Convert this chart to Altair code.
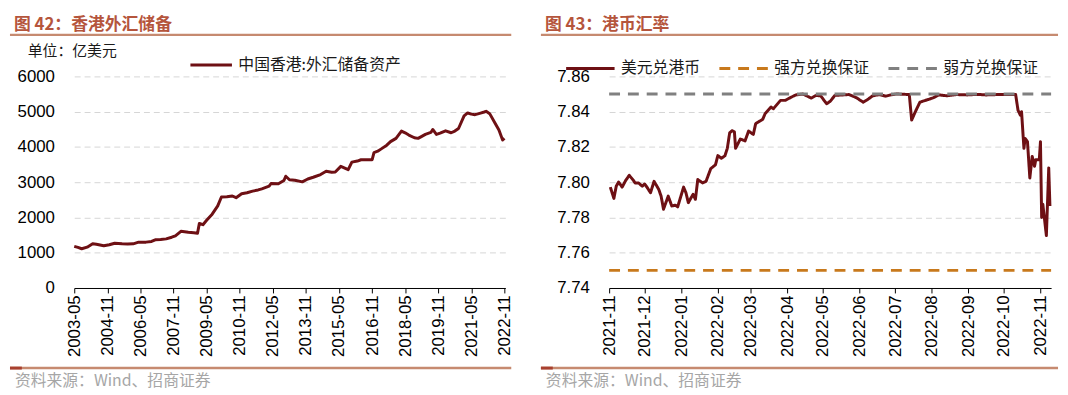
import altair as alt
import pandas as pd

# ---------------- data ----------------
reserve_months = [
    "2003-05", "2003-07", "2003-09", "2003-12", "2004-03", "2004-05", "2004-09", "2004-12",
    "2005-03", "2005-07", "2005-10", "2006-01", "2006-04", "2006-08", "2006-11", "2007-01",
    "2007-04", "2007-07", "2007-10", "2007-12", "2008-03", "2008-07", "2008-10", "2008-12",
    "2009-01", "2009-03", "2009-05", "2009-08", "2009-11", "2010-01", "2010-04", "2010-07",
    "2010-09", "2010-12", "2011-03", "2011-06", "2011-09", "2011-11", "2012-03", "2012-04",
    "2012-08", "2012-11", "2012-12", "2013-02", "2013-05", "2013-09", "2013-12", "2014-03",
    "2014-07", "2014-10", "2015-01", "2015-03", "2015-06", "2015-10", "2015-12", "2016-03",
    "2016-05", "2016-08", "2016-11", "2016-12", "2017-02", "2017-04", "2017-07", "2017-09",
    "2017-12", "2018-03", "2018-05", "2018-07", "2018-10", "2018-12", "2019-02", "2019-04",
    "2019-07", "2019-08", "2019-10", "2019-12", "2020-03", "2020-06", "2020-08", "2020-10",
    "2021-01", "2021-03", "2021-05", "2021-07", "2021-10", "2021-12", "2022-01", "2022-03",
    "2022-06", "2022-08", "2022-10", "2022-11",
]
reserve_values = [
    1180, 1150, 1113, 1158, 1253, 1240, 1197, 1225,
    1270, 1253, 1245, 1253, 1299, 1300, 1320, 1365,
    1375, 1393, 1440, 1480, 1608, 1580, 1565, 1552,
    1832, 1795, 1920, 2094, 2327, 2580, 2590, 2608,
    2560, 2673, 2700, 2748, 2780, 2813, 2888, 2963,
    2953, 3048, 3169, 3070, 3057, 3010, 3090, 3140,
    3216, 3309, 3280, 3290, 3449, 3356, 3569, 3600,
    3637, 3640, 3637, 3841, 3880, 3945, 4050, 4150,
    4243, 4449, 4400, 4337, 4260, 4243, 4300, 4355,
    4411, 4495, 4355, 4390, 4458, 4402, 4450, 4523,
    4879, 4963, 4930, 4915, 4960, 4991, 5010, 4944,
    4663, 4478, 4197, 4243,
]

fx_dates = [
    "2021-11-02", "2021-11-05", "2021-11-07", "2021-11-09", "2021-11-12", "2021-11-15",
    "2021-11-18", "2021-11-21", "2021-11-23", "2021-11-26", "2021-11-29",
    "2021-12-01", "2021-12-03", "2021-12-06", "2021-12-09", "2021-12-13", "2021-12-15",
    "2021-12-17", "2021-12-21", "2021-12-24", "2021-12-27", "2021-12-29",
    "2022-01-03", "2022-01-05", "2022-01-07", "2022-01-11", "2022-01-13", "2022-01-15",
    "2022-01-19", "2022-01-22", "2022-01-26", "2022-01-30",
    "2022-02-01", "2022-02-04", "2022-02-07", "2022-02-09", "2022-02-11", "2022-02-13",
    "2022-02-15", "2022-02-16", "2022-02-20", "2022-02-24", "2022-02-27",
    "2022-03-03", "2022-03-05", "2022-03-08", "2022-03-11", "2022-03-13", "2022-03-18",
    "2022-03-20", "2022-03-26", "2022-03-30",
    "2022-04-04", "2022-04-08", "2022-04-14", "2022-04-21", "2022-04-25", "2022-04-29",
    "2022-05-04", "2022-05-07", "2022-05-11", "2022-05-18", "2022-05-23", "2022-05-29",
    "2022-06-04", "2022-06-08", "2022-06-12", "2022-06-18", "2022-06-23", "2022-06-27",
    "2022-07-02", "2022-07-07", "2022-07-13", "2022-07-15", "2022-07-18", "2022-07-22",
    "2022-07-29",
    "2022-08-02", "2022-08-07", "2022-08-14", "2022-08-22", "2022-08-31",
    "2022-09-09", "2022-09-16", "2022-09-26",
    "2022-10-03", "2022-10-11", "2022-10-13", "2022-10-15", "2022-10-16", "2022-10-18",
    "2022-10-19", "2022-10-21", "2022-10-23", "2022-10-25", "2022-10-27", "2022-10-28",
    "2022-10-31",
    "2022-11-01", "2022-11-02", "2022-11-03", "2022-11-06", "2022-11-08", "2022-11-09",
]
fx_values = [
    7.7972, 7.7908, 7.7977, 7.8001, 7.7972, 7.8010, 7.8039, 7.8015, 7.7996, 7.7995, 7.7977,
    7.7990, 7.7972, 7.7940, 7.8005, 7.7959, 7.7920, 7.7847, 7.7921, 7.7865, 7.7870, 7.7860,
    7.7972, 7.7940, 7.7884, 7.7931, 7.7903, 7.8015, 7.7996, 7.8005, 7.8077, 7.8099,
    7.8151, 7.8136, 7.8150, 7.8192, 7.8280, 7.8292, 7.8286, 7.8192, 7.8245, 7.8234, 7.8290,
    7.8271, 7.8332, 7.8345, 7.8357, 7.8389, 7.8426, 7.8417, 7.8464, 7.8464,
    7.8482, 7.8495, 7.8500, 7.8477, 7.8492, 7.8490,
    7.8445, 7.8458, 7.8492, 7.8495, 7.8497, 7.8480,
    7.8454, 7.8470, 7.8490, 7.8497, 7.8488, 7.8495,
    7.8500, 7.8499, 7.8497, 7.8352, 7.8398, 7.8454, 7.8469,
    7.8478, 7.8495, 7.8490, 7.8497, 7.8495,
    7.8498, 7.8495, 7.8497,
    7.8498, 7.8497, 7.8408, 7.8380, 7.8400, 7.8192, 7.8248, 7.8230, 7.8024, 7.8146,
    7.8090, 7.8127, 7.8127,
    7.8230, 7.7800, 7.7875, 7.7697, 7.8081, 7.7865,
]

peg_dates = ["2021-11-01", "2022-11-10"]
strong_side = [7.75, 7.75]
weak_side = [7.85, 7.85]

left_ticks = ["2003-05", "2004-11", "2006-05", "2007-11", "2009-05", "2010-11", "2012-05",
              "2013-11", "2015-05", "2016-11", "2018-05", "2019-11", "2021-05", "2022-11"]
right_ticks = ["2021-11", "2021-12", "2022-01", "2022-02", "2022-03", "2022-04", "2022-05",
               "2022-06", "2022-07", "2022-08", "2022-09", "2022-10", "2022-11"]
left_y_ticks = [0, 1000, 2000, 3000, 4000, 5000, 6000]
right_y_ticks = [7.74, 7.76, 7.78, 7.80, 7.82, 7.84, 7.86]

left_series = "中国香港:外汇储备资产"
fx_series = ["美元兑港币", "强方兑换保证", "弱方兑换保证"]

# ---------------- style ----------------
FONT_CJK = "Noto Sans CJK SC"
FONT_NUM = "Liberation Sans"
TITLE_COLOR = "#b5553c"
RULE_COLOR = "#c68a70"
ACCENT_COLOR = "#a8402f"
LINE_COLOR = "#6e1014"
STRONG_COLOR = "#c8791c"
WEAK_COLOR = "#808080"
GRID_COLOR = "#d6d6d6"
SOURCE_COLOR = "#a6a6a6"

W1, W2, H = 436, 447, 214


def dt(s):
    parts = s.split("-")
    day = int(parts[2]) if len(parts) > 2 else 1
    return alt.DateTime(year=int(parts[0]), month=int(parts[1]), date=day, utc=True)


x_axis_style = dict(
    title=None, labelAngle=270, labelFont=FONT_NUM, labelFontSize=17, labelColor="#000000",
    domainColor="#000000", domainWidth=1, tickColor="#000000", tickSize=5, tickWidth=1,
    labelPadding=2, grid=False, labelOverlap=False, labelFlush=False,
    labelExpr="utcFormat(datum.value, '%Y-%m')",
)
y_axis_style = dict(
    title=None, domain=False, ticks=False, grid=True, gridColor=GRID_COLOR,
    gridDash=[6, 4], gridWidth=1, labelFont=FONT_NUM, labelFontSize=17,
    labelColor="#000000", labelPadding=20,
)


def decorations(left_x, right_x, title_text):
    base = alt.Chart(pd.DataFrame({"k": [0]}))
    title = base.mark_text(
        text=title_text, font=FONT_CJK, fontSize=17, fontWeight="bold",
        color=TITLE_COLOR, align="left", baseline="top",
    ).encode(x=alt.value(left_x + 4), y=alt.value(-60))
    top_rule = base.mark_rule(color=RULE_COLOR, strokeWidth=2.5).encode(
        x=alt.value(left_x), x2=alt.value(right_x), y=alt.value(-42))
    bottom_rule = base.mark_rule(color=RULE_COLOR, strokeWidth=2.5).encode(
        x=alt.value(left_x), x2=alt.value(right_x), y=alt.value(295))
    accent = base.mark_rule(color=ACCENT_COLOR, strokeWidth=3).encode(
        x=alt.value(left_x), x2=alt.value(left_x + 12), y=alt.value(295))
    source = base.mark_text(
        text="资料来源：Wind、招商证券", font=FONT_CJK, fontSize=16,
        color=SOURCE_COLOR, align="left", baseline="middle",
    ).encode(x=alt.value(left_x + 5), y=alt.value(308))
    return [title, top_rule, bottom_rule, accent, source]


# ---------------- left panel ----------------
df_res = pd.DataFrame({
    "date": [m + "-01" for m in reserve_months],
    "value": reserve_values,
    "s1": [left_series] * len(reserve_values),
})

left_line = alt.Chart(df_res).mark_line(strokeWidth=3, strokeJoin="round").encode(
    x=alt.X("date:T",
            scale=alt.Scale(type="utc", domain=[dt("2003-05-01"), dt("2022-11-15")]),
            axis=alt.Axis(values=[dt(t) for t in left_ticks], **x_axis_style)),
    y=alt.Y("value:Q", scale=alt.Scale(domain=[0, 6000], nice=False),
            axis=alt.Axis(values=left_y_ticks, format="d", **y_axis_style)),
    color=alt.Color("s1:N", scale=alt.Scale(domain=[left_series], range=[LINE_COLOR]),
                    legend=alt.Legend(orient="none", legendX=116, legendY=-34,
                                      direction="horizontal", title=None,
                                      symbolType="stroke", symbolSize=1764,
                                      symbolStrokeWidth=3, labelFont=FONT_CJK,
                                      labelFontSize=16, labelColor="#1a1a1a",
                                      labelLimit=0, labelOffset=5, padding=0)),
)

unit_text = alt.Chart(pd.DataFrame({"k": [0]})).mark_text(
    text="单位：亿美元", font=FONT_CJK, fontSize=15, color="#1a1a1a",
    align="left", baseline="middle",
).encode(x=alt.value(-47), y=alt.value(-26))

left_chart = alt.layer(
    left_line, unit_text, *decorations(-65, W1 + 6, "图 42：香港外汇储备")
).properties(width=W1, height=H)

# ---------------- right panel ----------------
df_fx = pd.DataFrame({
    "date2": fx_dates,
    "rate": fx_values,
    "s2": [fx_series[0]] * len(fx_values),
})
df_peg = pd.DataFrame({
    "date2": peg_dates + peg_dates,
    "rate": strong_side + weak_side,
    "s2": [fx_series[1]] * 2 + [fx_series[2]] * 2,
})

fx_legend = alt.Legend(orient="none", legendX=-45, legendY=-34, direction="horizontal",
                       title=None, symbolType="stroke", symbolSize=2401,
                       symbolStrokeWidth=3, labelFont=FONT_CJK, labelFontSize=16,
                       labelColor="#1a1a1a", labelLimit=0, labelOffset=5,
                       columnPadding=12, padding=0)
fx_x = alt.X("date2:T",
             scale=alt.Scale(type="utc", domain=[dt("2021-11-01"), dt("2022-11-10")]),
             axis=alt.Axis(values=[dt(t) for t in right_ticks], **x_axis_style))
fx_y = alt.Y("rate:Q", scale=alt.Scale(domain=[7.74, 7.86], nice=False, zero=False),
             axis=alt.Axis(values=right_y_ticks, format=".2f", **y_axis_style))
fx_color = alt.Color("s2:N", scale=alt.Scale(domain=fx_series,
                                             range=[LINE_COLOR, STRONG_COLOR, WEAK_COLOR]),
                     legend=fx_legend)
fx_dash = alt.StrokeDash("s2:N", scale=alt.Scale(domain=fx_series,
                                                 range=[[1, 0], [11, 8], [11, 8]]),
                         legend=fx_legend)

fx_line = alt.Chart(df_fx).mark_line(strokeWidth=3, strokeJoin="round").encode(
    x=fx_x, y=fx_y, color=fx_color, strokeDash=fx_dash)
peg_line = alt.Chart(df_peg).mark_line(strokeWidth=3).encode(
    x=fx_x, y=fx_y, color=fx_color, strokeDash=fx_dash, detail="s2:N")

right_chart = alt.layer(
    fx_line, peg_line, *decorations(-69, W2 + 7, "图 43：港币汇率")
).properties(width=W2, height=H)

chart = alt.hconcat(left_chart, right_chart, spacing=26, bounds="full").resolve_scale(
    x="independent", y="independent", color="independent", strokeDash="independent"
).configure_view(stroke=None).properties(
    padding={"top": 6, "left": 0, "right": 0, "bottom": 0}, background="white")

chart.save("out.html", embed_options={"renderer": "svg", "actions": False})
